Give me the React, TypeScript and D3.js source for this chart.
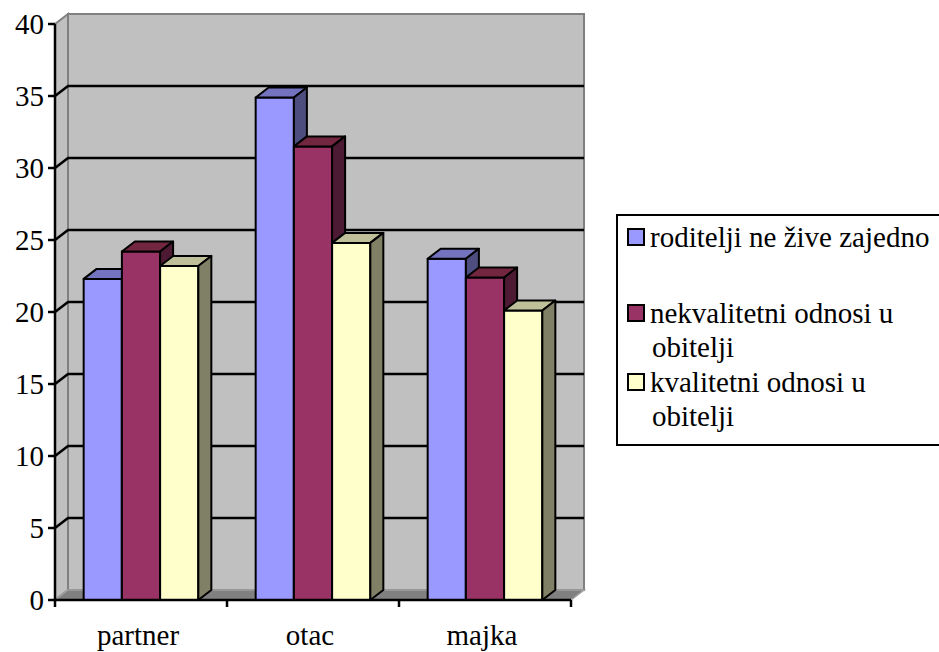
import React from "react";
import * as d3 from "d3";

const categories = ["partner", "otac", "majka"];
const seriesNames = [
  ["roditelji ne žive zajedno"],
  ["nekvalitetni odnosi u", "obitelji"],
  ["kvalitetni odnosi u", "obitelji"],
];
const roditeljiNeZive = [22.3, 34.9, 23.7];
const nekvalitetni = [24.2, 31.5, 22.4];
const kvalitetni = [23.2, 24.8, 20.1];
const yTicks = [0, 5, 10, 15, 20, 25, 30, 35, 40];

// front, top, side shades per series
const palette = [
  { front: "#9999FF", top: "#7373BF", side: "#4D4D80" },
  { front: "#993366", top: "#732640", side: "#4D1A33" },
  { front: "#FFFFCC", top: "#BFBF99", side: "#808066" },
];

const FONT = "Liberation Serif";
const labelStyle = { fontFamily: FONT, fontSize: 29 };
const DX = 13;
const DY = -10;

export default function App() {
  const values = [roditeljiNeZive, nekvalitetni, kvalitetni];
  const y = d3.scaleLinear().domain([0, 40]).range([600, 24]);
  const x = d3.scaleBand<string>().domain(categories).range([55, 571]);
  const inner = d3
    .scaleBand<number>()
    .domain([0, 1, 2])
    .range([0, x.bandwidth()])
    .paddingInner(0)
    .paddingOuter(0.75);

  const x0 = 55;
  const x1 = 571;
  const yTop = y(40);
  const yBot = y(0);
  const pts = (p: number[][]) => p.map((d) => d.join(",")).join(" ");

  const bars: any[] = [];
  categories.forEach((c, ci) => {
    values.forEach((vals, si) => {
      const bx = (x(c) as number) + (inner(si) as number);
      const w = inner.bandwidth();
      const ty = y(vals[ci]);
      const col = palette[si];
      bars.push(
        <g key={`${ci}-${si}`} stroke="#000" strokeWidth={2} strokeLinejoin="round">
          <rect x={bx} y={ty} width={w} height={yBot - ty} fill={col.front} />
          <polygon
            points={pts([[bx, ty], [bx + DX, ty + DY], [bx + w + DX, ty + DY], [bx + w, ty]])}
            fill={col.top}
          />
          <polygon
            points={pts([[bx + w, ty], [bx + w + DX, ty + DY], [bx + w + DX, yBot + DY], [bx + w, yBot]])}
            fill={col.side}
          />
        </g>
      );
    });
  });

  return (
    <svg
      width={939}
      height={652}
      style={{ position: "absolute", left: 0, top: 0, background: "#fff" }}
    >
      <style>{`text { font-family: "Liberation Serif", "Times New Roman", serif; font-size: 29px; }`}</style>
      {/* walls and floor */}
      <polygon
        points={pts([[x0 + DX, yTop + DY], [x1 + DX, yTop + DY], [x1 + DX, yBot + DY], [x0 + DX, yBot + DY]])}
        fill="#C0C0C0"
        stroke="#808080"
        strokeWidth={2}
      />
      <polygon
        points={pts([[x0, yTop], [x0 + DX, yTop + DY], [x0 + DX, yBot + DY], [x0, yBot]])}
        fill="#C0C0C0"
        stroke="#808080"
        strokeWidth={2}
      />
      <polygon
        points={pts([[x0, yBot], [x0 + DX, yBot + DY], [x1 + DX, yBot + DY], [x1, yBot]])}
        fill="#808080"
        stroke="#A0A0A0"
        strokeWidth={1.5}
      />
      {/* gridlines */}
      {yTicks
        .filter((t) => t > 0 && t < 40)
        .map((t) => (
          <polyline
            key={t}
            points={pts([[x0, y(t)], [x0 + DX, y(t) + DY], [x1 + DX, y(t) + DY]])}
            stroke="#000"
            strokeWidth={2.5}
            fill="none"
          />
        ))}
      {bars}
      {/* axes */}
      <line x1={x0} y1={yTop} x2={x0} y2={yBot} stroke="#000" strokeWidth={2.5} />
      <line x1={x0} y1={yBot} x2={x1} y2={yBot} stroke="#000" strokeWidth={2.5} />
      {yTicks.map((t) => (
        <line key={"t" + t} x1={48} y1={y(t)} x2={x0} y2={y(t)} stroke="#000" strokeWidth={2.5} />
      ))}
      {yTicks.map((t) => (
        <text key={"l" + t} x={44} y={y(t) + 10} textAnchor="end" style={labelStyle}>
          {String(t)}
        </text>
      ))}
      {[...categories.map((c) => x(c) as number), x1].map((v, i) => (
        <line key={i} x1={v} y1={yBot} x2={v} y2={yBot + 7} stroke="#000" strokeWidth={2.5} />
      ))}
      {categories.map((c) => (
        <text
          key={c}
          x={(x(c) as number) + x.bandwidth() / 2 - 3}
          y={645}
          textAnchor="middle"
          style={labelStyle}
        >
          {c}
        </text>
      ))}
      {/* legend */}
      <rect x={617} y={215} width={340} height={230} fill="#fff" stroke="#000" strokeWidth={2} />
      {seriesNames.map((lines, i) => {
        const base = [247, 323, 392][i];
        return (
          <rect key={"s" + i} x={628} y={base - 18} width={16} height={16} fill={palette[i].front} stroke="#000" strokeWidth={2} />
        );
      })}
      {seriesNames.map((lines, i) => {
        const base = [247, 323, 392][i];
        return lines.map((l, li) => (
          <text key={"n" + i + li} x={li === 0 ? 650 : 652} y={base + li * 34} style={labelStyle}>
            {l}
          </text>
        ));
      })}
    </svg>
  );
}
